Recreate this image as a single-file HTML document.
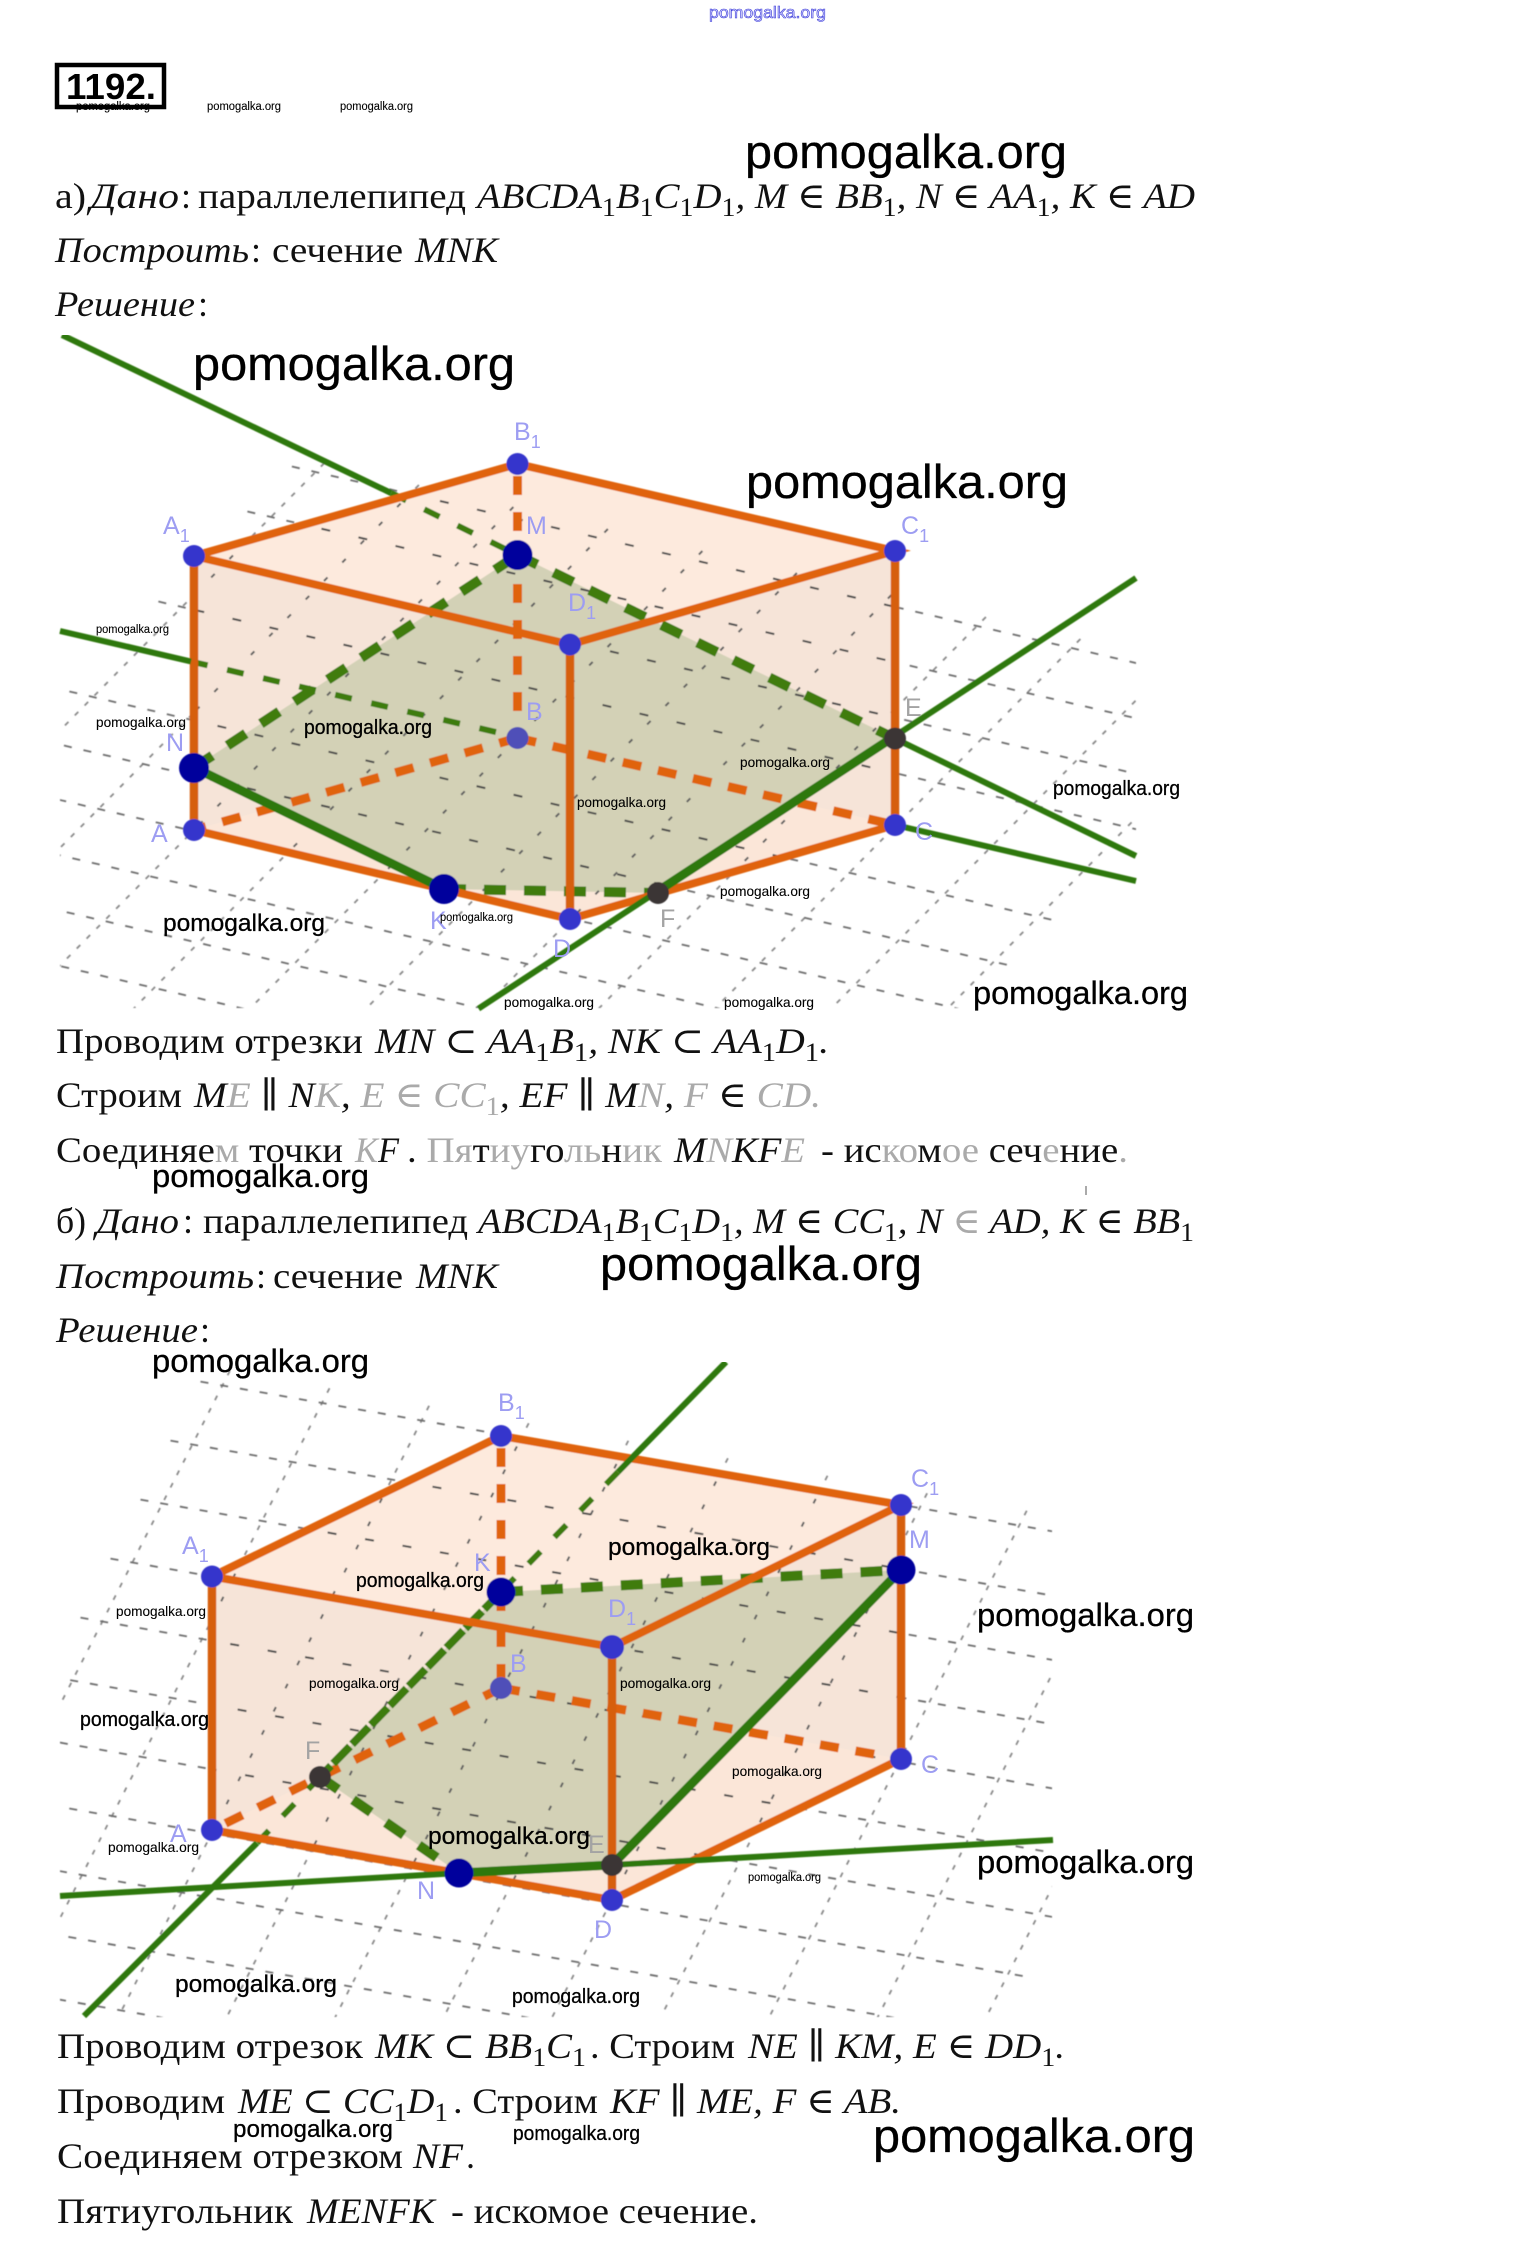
<!DOCTYPE html>
<html lang="ru"><head><meta charset="utf-8"><title>1192</title>
<style>
html,body{margin:0;padding:0;background:#fff}
svg{display:block}
.s{font-family:"Liberation Serif","DejaVu Serif",serif;font-size:36px;fill:#111}
.i{font-style:italic}
.w{font-family:"Liberation Sans",sans-serif;fill:#000;stroke:#000;stroke-width:.3}
.b1{font-size:47px}.b2{font-size:32px}.b3{font-size:24px}.b4{font-size:20px}.b5{font-size:14px;stroke-width:.1}.b6{font-size:11.5px;stroke-width:.1}
.l{font-family:"Liberation Sans",sans-serif;font-size:25px;fill:#9d9df2}
.l2{font-family:"Liberation Sans",sans-serif;font-size:25px;fill:#a3a3a3}
.sub{font-size:18px}
.gr{fill:#aaa}
.g1{stroke:#6e6e6e;stroke-width:1.8;stroke-dasharray:8 12;fill:none}
.g2{stroke:#8a8a8a;stroke-width:1.8;stroke-dasharray:5 9;fill:none}
.g1i{stroke:#4a4a4a;stroke-width:2;stroke-dasharray:9 29;fill:none}
.g2i{stroke:#606060;stroke-width:2;stroke-dasharray:5 21;fill:none}
.o{stroke:#e0640f;stroke-width:8;fill:none}
.ov{stroke:#d65f0e;stroke-width:8.5;fill:none}
.od{stroke:#e0640f;stroke-width:9;stroke-dasharray:19 17;fill:none}
.gs{stroke:#2f780b;stroke-width:6;fill:none}
.gt{stroke:#2f780b;stroke-width:9;fill:none}
.gd{stroke:#3f7c0c;stroke-width:10;stroke-dasharray:22 18;fill:none}
.gn{stroke:#3e7c0c;stroke-width:6;stroke-dasharray:17 20;fill:none}
.pt{fill:#3636cc}.pb{fill:#00009c}.pk{fill:#3a3636}
</style></head><body>
<svg xmlns="http://www.w3.org/2000/svg" width="1532" height="2262" viewBox="0 0 1532 2262">
<defs>
<filter id="bl" x="0" y="0" width="100%" height="100%"><feGaussianBlur stdDeviation="0.45"/></filter>
<clipPath id="c1"><rect x="60" y="335" width="1076" height="673"/></clipPath>
<clipPath id="c2"><rect x="60" y="1362" width="992" height="655"/></clipPath>
<clipPath id="in1"><polygon points="194,556 517.5,464 895,551 895,825 570,919 194,830"/></clipPath>
<clipPath id="out1"><path clip-rule="evenodd" d="M0 300H1532V1040H0ZM194 556L517.5 464L895 551V825L570 919L194 830Z"/></clipPath>
<clipPath id="in2"><polygon points="212,1576.5 501,1436 901,1505 901,1759 612,1900 212,1830"/></clipPath>
<clipPath id="out2"><path clip-rule="evenodd" d="M0 1340H1532V2040H0ZM212 1576.5L501 1436L901 1505V1759L612 1900L212 1830Z"/></clipPath>
<g id="s1">
<line x1="324.4" y1="463" x2="-174" y2="967"/><line x1="418.9" y1="485" x2="-79.5" y2="989"/><line x1="513.4" y1="507" x2="15" y2="1011"/><line x1="607.9" y1="529" x2="109.5" y2="1033"/><line x1="702.4" y1="551" x2="204" y2="1055"/><line x1="796.9" y1="573" x2="298.5" y2="1077"/><line x1="891.4" y1="595" x2="393" y2="1099"/><line x1="985.9" y1="617" x2="487.5" y2="1121"/><line x1="1080.4" y1="639" x2="582" y2="1143"/><line x1="1174.9" y1="661" x2="676.5" y2="1165"/><line x1="1269.4" y1="683" x2="771" y2="1187"/>
</g>
<g id="r1">
<line x1="-153" y1="916.5" x2="834" y2="1146"/><line x1="-108.6" y1="871.5" x2="879" y2="1101"/><line x1="-64" y1="826.5" x2="923" y2="1056"/><line x1="-19.6" y1="781.5" x2="968" y2="1011"/><line x1="25" y1="736.5" x2="1012" y2="966"/><line x1="69.4" y1="691.5" x2="1057" y2="921"/><line x1="158.4" y1="601.5" x2="1410" y2="893"/><line x1="202.9" y1="556.5" x2="1455" y2="848"/><line x1="247.4" y1="511.5" x2="1500" y2="803"/><line x1="291.9" y1="466.5" x2="1544" y2="758"/>
</g>
<g id="s2">
<line x1="229.9" y1="1370.75" x2="-137.6" y2="2093.5"/><line x1="329.5" y1="1388.25" x2="-38" y2="2111"/><line x1="429.1" y1="1405.75" x2="61.6" y2="2128.5"/><line x1="528.7" y1="1423.25" x2="161.2" y2="2146"/><line x1="628.3" y1="1440.75" x2="260.8" y2="2163.5"/><line x1="727.9" y1="1458.25" x2="360.4" y2="2181"/><line x1="827.5" y1="1475.75" x2="460" y2="2198.5"/><line x1="927.1" y1="1493.25" x2="559.6" y2="2216"/><line x1="1026.7" y1="1510.75" x2="659.2" y2="2233.5"/><line x1="1126.3" y1="1528.25" x2="758.8" y2="2251"/><line x1="1225.9" y1="1545.75" x2="858.4" y2="2268.5"/>
</g>
<g id="r2">
<line x1="200.5" y1="1381.65" x2="1318" y2="1578"/><line x1="170.5" y1="1440.65" x2="1288" y2="1637"/><line x1="140.5" y1="1499.65" x2="1258" y2="1696"/><line x1="110.5" y1="1558.65" x2="1228" y2="1755"/><line x1="80.5" y1="1617.65" x2="1198" y2="1814"/><line x1="50.5" y1="1676.65" x2="1168" y2="1873"/><line x1="20.5" y1="1735.65" x2="1138" y2="1932"/><line x1="-9.5" y1="1794.65" x2="1033.3" y2="1977.9"/><line x1="-39.5" y1="1853.65" x2="1003.3" y2="2036.9"/><line x1="-69.5" y1="1912.65" x2="973.3" y2="2095.9"/><line x1="-99.5" y1="1971.65" x2="943.3" y2="2154.9"/>
</g>
</defs>
<rect width="1532" height="2262" fill="#fff"/>

<!-- Diagram 1 -->
<g filter="url(#bl)">
<polygon points="194,556 517.5,464 895,551 895,825 570,919 194,830" fill="#f6e4d8"/>
<polygon points="194,556 517.5,464 895,551 570,644.5" fill="#fdeadd"/>
<polygon points="194,830 517.5,738 895,825 570,919" fill="#fbe6d8"/>
<polygon points="194,767.6 517.5,555 895,738.6 658,893 444,889" fill="#d3d1b6"/>
<g clip-path="url(#c1)">
<g clip-path="url(#out1)"><use href="#s1" class="g2"/><use href="#r1" class="g1"/></g>
<g clip-path="url(#in1)"><use href="#s1" class="g2i"/><use href="#r1" class="g1i"/></g>
</g>
<!-- hidden edges -->
<line class="od" x1="517.5" y1="476" x2="517.5" y2="738"/>
<line class="od" x1="517.5" y1="738" x2="194" y2="830"/>
<line class="od" x1="517.5" y1="738" x2="895" y2="825"/>
<!-- green hidden -->
<line class="gn" x1="391" y1="493" x2="517.5" y2="555"/>
<line class="gn" x1="191" y1="661.5" x2="517.5" y2="737"/>
<line class="gd" x1="194" y1="767.6" x2="517.5" y2="555"/>
<line class="gd" x1="517.5" y1="555" x2="895" y2="738.6"/>
<line class="gd" x1="444" y1="889" x2="658" y2="893"/>
<!-- solid edges -->
<polyline class="o" points="194,556 517.5,464 895,551 570,644.5 194,556"/>
<line class="ov" x1="194" y1="556" x2="194" y2="830"/>
<line class="ov" x1="895" y1="551" x2="895" y2="825"/>
<line class="ov" x1="570" y1="644.5" x2="570" y2="919"/>
<polyline class="o" points="194,830 570,919 895,825"/>
<!-- green solid -->
<line class="gs" x1="62" y1="335" x2="391" y2="493"/>
<line class="gs" x1="895" y1="738.6" x2="1136" y2="856"/>
<line class="gs" x1="60" y1="631" x2="191" y2="661.5"/>
<line class="gs" x1="895" y1="825" x2="1136" y2="881"/>
<line class="gs" x1="478.5" y1="1008.6" x2="658" y2="891"/>
<line class="gs" x1="895" y1="736" x2="1136" y2="578"/>
<line class="gt" x1="658" y1="891" x2="895" y2="736"/>
<line class="gt" x1="194" y1="767.6" x2="444" y2="889"/>
<!-- points -->
<circle class="pt" cx="194" cy="556" r="11"/><circle class="pt" cx="517.5" cy="464" r="11"/><circle class="pt" cx="895" cy="551" r="11"/><circle class="pt" cx="570" cy="644.5" r="11"/>
<circle class="pt" cx="194" cy="830" r="11"/><circle cx="517.5" cy="738" r="11" fill="#4f4fb8"/><circle class="pt" cx="895" cy="825" r="11"/><circle class="pt" cx="570" cy="919" r="11"/>
<circle class="pb" cx="517.5" cy="555" r="15"/><circle class="pb" cx="194" cy="768" r="15"/><circle class="pb" cx="444" cy="889" r="15"/>
<circle class="pk" cx="895" cy="738.6" r="11"/><circle class="pk" cx="658" cy="893" r="11"/>
</g>
<text class="l" x="514" y="440">B<tspan class="sub" dy="8">1</tspan></text>
<text class="l" x="163" y="534">A<tspan class="sub" dy="8">1</tspan></text>
<text class="l" x="901" y="534">C<tspan class="sub" dy="8">1</tspan></text>
<text class="l" x="526" y="534">M</text>
<text class="l" x="568" y="611">D<tspan class="sub" dy="8">1</tspan></text>
<text class="l2" x="905" y="716">E</text>
<text class="l" x="526" y="720">B</text>
<text class="l" x="166" y="751">N</text>
<text class="l" x="151" y="842">A</text>
<text class="l" x="915" y="840">C</text>
<text class="l" x="430" y="929">K</text>
<text class="l" x="553" y="957">D</text>
<text class="l2" x="660" y="927">F</text>

<!-- Diagram 2 -->
<g filter="url(#bl)">
<polygon points="212,1576.5 501,1436 901,1505 901,1759 612,1900 212,1830" fill="#f6e4d8"/>
<polygon points="212,1576.5 501,1436 901,1505 612,1647" fill="#fdeadd"/>
<polygon points="212,1830 501,1688 901,1759 612,1900" fill="#fbe6d8"/>
<polygon points="501,1592 901,1570 612,1865 459,1873 320,1777" fill="#d3d1b6"/>
<g clip-path="url(#c2)">
<g clip-path="url(#out2)"><use href="#s2" class="g2"/><use href="#r2" class="g1"/></g>
<g clip-path="url(#in2)"><use href="#s2" class="g2i"/><use href="#r2" class="g1i"/></g>
</g>
<line class="od" x1="501" y1="1448" x2="501" y2="1688"/>
<line class="od" x1="501" y1="1688" x2="212" y2="1830"/>
<line class="od" x1="501" y1="1688" x2="901" y2="1759"/>
<line class="gn" x1="618" y1="1472" x2="501" y2="1592"/>
<line class="gn" x1="320" y1="1777" x2="257" y2="1843"/>
<line x1="501" y1="1592" x2="320" y2="1777" stroke="#3e7c0c" stroke-width="8" stroke-dasharray="24 3" fill="none"/>
<line class="gd" x1="501" y1="1592" x2="901" y2="1570"/>
<line class="gd" x1="320" y1="1777" x2="459" y2="1873"/>
<polyline class="o" points="212,1576.5 501,1436 901,1505 612,1647 212,1576.5"/>
<line class="ov" x1="212" y1="1576.5" x2="212" y2="1830"/>
<line class="ov" x1="901" y1="1505" x2="901" y2="1759"/>
<line class="ov" x1="612" y1="1647" x2="612" y2="1900"/>
<polyline class="o" points="212,1830 612,1900 901,1759"/>
<line class="gs" x1="84" y1="2016" x2="257" y2="1843"/>
<line class="gs" x1="618" y1="1472" x2="726" y2="1362"/>
<line class="gs" x1="60" y1="1896" x2="459" y2="1873"/>
<line class="gs" x1="612" y1="1865" x2="1053" y2="1840"/>
<line class="gt" x1="459" y1="1873" x2="612" y2="1865"/>
<line class="gt" x1="612" y1="1865" x2="901" y2="1570"/>
<circle class="pt" cx="212" cy="1576.5" r="11"/><circle class="pt" cx="501" cy="1436" r="11"/><circle class="pt" cx="901" cy="1505" r="11"/><circle class="pt" cx="612" cy="1647" r="12"/>
<circle class="pt" cx="212" cy="1830" r="11"/><circle cx="501" cy="1688" r="11" fill="#4f4fb8"/><circle class="pt" cx="901" cy="1759" r="11"/><circle class="pt" cx="612" cy="1900" r="11"/>
<circle class="pb" cx="501" cy="1592" r="14.5"/><circle class="pb" cx="901" cy="1570" r="14.5"/><circle class="pb" cx="459" cy="1873" r="14.5"/>
<circle class="pk" cx="612" cy="1865" r="11"/><circle class="pk" cx="320" cy="1777" r="11"/>
</g>
<text class="l" x="498" y="1411">B<tspan class="sub" dy="8">1</tspan></text>
<text class="l" x="182" y="1554">A<tspan class="sub" dy="8">1</tspan></text>
<text class="l" x="911" y="1487">C<tspan class="sub" dy="8">1</tspan></text>
<text class="l" x="909" y="1548">M</text>
<text class="l" x="474" y="1571">K</text>
<text class="l" x="608" y="1617">D<tspan class="sub" dy="8">1</tspan></text>
<text class="l" x="510" y="1672">B</text>
<text class="l2" x="305" y="1759">F</text>
<text class="l" x="921" y="1773">C</text>
<text class="l" x="170" y="1842">A</text>
<text class="l2" x="588" y="1853">E</text>
<text class="l" x="417" y="1899">N</text>
<text class="l" x="594" y="1938">D</text>

<!-- Title -->
<rect x="57" y="65" width="107" height="42" fill="none" stroke="#000" stroke-width="4.5"/>
<text x="66" y="99" font-family="Liberation Sans,sans-serif" font-weight="bold" font-size="36" textLength="90" lengthAdjust="spacingAndGlyphs">1192.</text>
<text x="709" y="18" font-family="Liberation Sans,sans-serif" font-size="17" fill="#d8d8ff" stroke="#3a3ad8" stroke-width=".6" textLength="117" lengthAdjust="spacingAndGlyphs">pomogalka.org</text>

<!-- Text -->
<g class="s">
<text x="55" y="208" textLength="31" lengthAdjust="spacingAndGlyphs">а)</text>
<text class="i" x="90" y="208" textLength="89" lengthAdjust="spacingAndGlyphs">Дано</text><text x="181" y="208">:</text>
<text x="198" y="208" textLength="268" lengthAdjust="spacingAndGlyphs">параллелепипед</text>
<text class="i" x="477" y="208" textLength="718" lengthAdjust="spacingAndGlyphs">ABCDA<tspan dy="8" font-size="26" font-style="normal">1</tspan><tspan dy="-8">B</tspan><tspan dy="8" font-size="26" font-style="normal">1</tspan><tspan dy="-8">C</tspan><tspan dy="8" font-size="26" font-style="normal">1</tspan><tspan dy="-8">D</tspan><tspan dy="8" font-size="26" font-style="normal">1</tspan><tspan dy="-8">, M ∈ BB</tspan><tspan dy="8" font-size="26" font-style="normal">1</tspan><tspan dy="-8">, N ∈ AA</tspan><tspan dy="8" font-size="26" font-style="normal">1</tspan><tspan dy="-8">, K ∈ AD</tspan></text>

<text class="i" x="55" y="262" textLength="194" lengthAdjust="spacingAndGlyphs">Построить</text><text x="251" y="262">:</text>
<text x="272" y="262" textLength="131" lengthAdjust="spacingAndGlyphs">сечение</text>
<text class="i" x="415" y="262" textLength="83" lengthAdjust="spacingAndGlyphs">MNK</text>
<text class="i" x="55" y="316" textLength="140" lengthAdjust="spacingAndGlyphs">Решение</text><text x="198" y="316">:</text>

<text x="56" y="1053" textLength="307" lengthAdjust="spacingAndGlyphs">Проводим отрезки</text>
<text class="i" x="375" y="1053" textLength="454" lengthAdjust="spacingAndGlyphs">MN ⊂ AA<tspan dy="8" font-size="26" font-style="normal">1</tspan><tspan dy="-8">B</tspan><tspan dy="8" font-size="26" font-style="normal">1</tspan><tspan dy="-8">, NK ⊂ AA</tspan><tspan dy="8" font-size="26" font-style="normal">1</tspan><tspan dy="-8">D</tspan><tspan dy="8" font-size="26" font-style="normal">1</tspan><tspan dy="-8">.</tspan></text>

<text x="56" y="1107" textLength="126" lengthAdjust="spacingAndGlyphs">Строим</text>
<text class="i" x="194" y="1107" textLength="627" lengthAdjust="spacingAndGlyphs">M<tspan class="gr">E</tspan> ∥ N<tspan class="gr">K</tspan>, <tspan class="gr">E ∈ CC</tspan><tspan dy="8" font-size="26" class="gr" font-style="normal">1</tspan><tspan dy="-8">,  EF ∥ M</tspan><tspan class="gr">N</tspan>, <tspan class="gr">F</tspan> ∈ <tspan class="gr">CD.</tspan></text>

<text x="56" y="1162" textLength="287" lengthAdjust="spacingAndGlyphs">Соединяе<tspan class="gr">м</tspan> точки</text>
<text class="i gr" x="355" y="1162" textLength="44" lengthAdjust="spacingAndGlyphs">K<tspan fill="#111">F</tspan></text>
<text x="407" y="1162" textLength="255" lengthAdjust="spacingAndGlyphs">. <tspan class="gr">Пя</tspan>т<tspan class="gr">иу</tspan>го<tspan class="gr">ль</tspan>н<tspan class="gr">ик</tspan></text>
<text class="i" x="674" y="1162" textLength="131" lengthAdjust="spacingAndGlyphs">M<tspan class="gr">N</tspan>KF<tspan class="gr">E</tspan></text>
<text x="821" y="1162" textLength="307" lengthAdjust="spacingAndGlyphs">- ис<tspan class="gr">ко</tspan>м<tspan class="gr">ое</tspan> сеч<tspan class="gr">е</tspan>ние<tspan class="gr">.</tspan></text>
<line x1="1086" y1="1186" x2="1086" y2="1195" stroke="#555" stroke-width="1"/>

<text x="56" y="1233" textLength="30" lengthAdjust="spacingAndGlyphs">б)</text>
<text class="i" x="96" y="1233" textLength="83" lengthAdjust="spacingAndGlyphs">Дано</text><text x="183" y="1233">:</text>
<text x="203" y="1233" textLength="265" lengthAdjust="spacingAndGlyphs">параллелепипед</text>
<text class="i" x="478" y="1233" textLength="716" lengthAdjust="spacingAndGlyphs">ABCDA<tspan dy="8" font-size="26" font-style="normal">1</tspan><tspan dy="-8">B</tspan><tspan dy="8" font-size="26" font-style="normal">1</tspan><tspan dy="-8">C</tspan><tspan dy="8" font-size="26" font-style="normal">1</tspan><tspan dy="-8">D</tspan><tspan dy="8" font-size="26" font-style="normal">1</tspan><tspan dy="-8">, M ∈ CC</tspan><tspan dy="8" font-size="26" font-style="normal">1</tspan><tspan dy="-8">, N </tspan><tspan class="gr">∈</tspan> AD, K ∈ BB<tspan dy="8" font-size="26" font-style="normal">1</tspan></text>

<text class="i" x="56" y="1288" textLength="198" lengthAdjust="spacingAndGlyphs">Построить</text><text x="256" y="1288">:</text>
<text x="273" y="1288" textLength="130" lengthAdjust="spacingAndGlyphs">сечение</text>
<text class="i" x="416" y="1288" textLength="82" lengthAdjust="spacingAndGlyphs">MNK</text>
<text class="i" x="56" y="1342" textLength="142" lengthAdjust="spacingAndGlyphs">Решение</text><text x="200" y="1342">:</text>

<text x="57" y="2058" textLength="306" lengthAdjust="spacingAndGlyphs">Проводим отрезок</text>
<text class="i" x="375" y="2058" textLength="211" lengthAdjust="spacingAndGlyphs">MK ⊂ BB<tspan dy="8" font-size="26" font-style="normal">1</tspan><tspan dy="-8">C</tspan><tspan dy="8" font-size="26" font-style="normal">1</tspan></text>
<text x="590" y="2058" textLength="145" lengthAdjust="spacingAndGlyphs">. Строим</text>
<text class="i" x="748" y="2058" textLength="317" lengthAdjust="spacingAndGlyphs">NE ∥ KM, E ∈ DD<tspan dy="8" font-size="26" font-style="normal">1</tspan><tspan dy="-8">.</tspan></text>

<text x="57" y="2113" textLength="168" lengthAdjust="spacingAndGlyphs">Проводим</text>
<text class="i" x="238" y="2113" textLength="210" lengthAdjust="spacingAndGlyphs">ME ⊂ CC<tspan dy="8" font-size="26" font-style="normal">1</tspan><tspan dy="-8">D</tspan><tspan dy="8" font-size="26" font-style="normal">1</tspan></text>
<text x="453" y="2113" textLength="145" lengthAdjust="spacingAndGlyphs">. Строим</text>
<text class="i" x="610" y="2113" textLength="291" lengthAdjust="spacingAndGlyphs">KF ∥ ME, F ∈ AB.</text>

<text x="57" y="2168" textLength="346" lengthAdjust="spacingAndGlyphs">Соединяем отрезком</text>
<text class="i" x="413" y="2168" textLength="50" lengthAdjust="spacingAndGlyphs">NF</text><text x="466" y="2168">.</text>

<text x="57" y="2223" textLength="236" lengthAdjust="spacingAndGlyphs">Пятиугольник</text>
<text class="i" x="307" y="2223" textLength="128" lengthAdjust="spacingAndGlyphs">MENFK</text>
<text x="451" y="2223" textLength="307" lengthAdjust="spacingAndGlyphs">- искомое сечение.</text>
</g>

<!-- Watermarks -->
<g class="w">
<text class="b1" x="745" y="168" textLength="322" lengthAdjust="spacingAndGlyphs">pomogalka.org</text>
<text class="b1" x="193" y="380" textLength="322" lengthAdjust="spacingAndGlyphs">pomogalka.org</text>
<text class="b1" x="746" y="498" textLength="322" lengthAdjust="spacingAndGlyphs">pomogalka.org</text>
<text class="b1" x="600" y="1280" textLength="322" lengthAdjust="spacingAndGlyphs">pomogalka.org</text>
<text class="b1" x="873" y="2152" textLength="322" lengthAdjust="spacingAndGlyphs">pomogalka.org</text>
<text class="b2" x="152" y="1187" textLength="217" lengthAdjust="spacingAndGlyphs">pomogalka.org</text>
<text class="b2" x="152" y="1372" textLength="217" lengthAdjust="spacingAndGlyphs">pomogalka.org</text>
<text class="b2" x="977" y="1626" textLength="217" lengthAdjust="spacingAndGlyphs">pomogalka.org</text>
<text class="b2" x="977" y="1873" textLength="217" lengthAdjust="spacingAndGlyphs">pomogalka.org</text>
<text class="b2" x="973" y="1004" textLength="215" lengthAdjust="spacingAndGlyphs">pomogalka.org</text>
<text class="b3" x="163" y="931" textLength="162" lengthAdjust="spacingAndGlyphs">pomogalka.org</text>
<text class="b3" x="608" y="1555" textLength="162" lengthAdjust="spacingAndGlyphs">pomogalka.org</text>
<text class="b3" x="428" y="1844" textLength="162" lengthAdjust="spacingAndGlyphs">pomogalka.org</text>
<text class="b3" x="175" y="1992" textLength="162" lengthAdjust="spacingAndGlyphs">pomogalka.org</text>
<text class="b3" x="233" y="2137" textLength="160" lengthAdjust="spacingAndGlyphs">pomogalka.org</text>
<text class="b4" x="304" y="734" textLength="128" lengthAdjust="spacingAndGlyphs">pomogalka.org</text>
<text class="b4" x="1053" y="795" textLength="127" lengthAdjust="spacingAndGlyphs">pomogalka.org</text>
<text class="b4" x="356" y="1587" textLength="128" lengthAdjust="spacingAndGlyphs">pomogalka.org</text>
<text class="b4" x="80" y="1726" textLength="129" lengthAdjust="spacingAndGlyphs">pomogalka.org</text>
<text class="b4" x="512" y="2003" textLength="128" lengthAdjust="spacingAndGlyphs">pomogalka.org</text>
<text class="b4" x="513" y="2140" textLength="127" lengthAdjust="spacingAndGlyphs">pomogalka.org</text>
<text class="b5" x="96" y="727" textLength="90" lengthAdjust="spacingAndGlyphs">pomogalka.org</text>
<text class="b5" x="740" y="767" textLength="90" lengthAdjust="spacingAndGlyphs">pomogalka.org</text>
<text class="b5" x="577" y="807" textLength="89" lengthAdjust="spacingAndGlyphs">pomogalka.org</text>
<text class="b5" x="720" y="896" textLength="90" lengthAdjust="spacingAndGlyphs">pomogalka.org</text>
<text class="b5" x="504" y="1007" textLength="90" lengthAdjust="spacingAndGlyphs">pomogalka.org</text>
<text class="b5" x="724" y="1007" textLength="90" lengthAdjust="spacingAndGlyphs">pomogalka.org</text>
<text class="b5" x="116" y="1616" textLength="90" lengthAdjust="spacingAndGlyphs">pomogalka.org</text>
<text class="b5" x="309" y="1688" textLength="90" lengthAdjust="spacingAndGlyphs">pomogalka.org</text>
<text class="b5" x="620" y="1688" textLength="91" lengthAdjust="spacingAndGlyphs">pomogalka.org</text>
<text class="b5" x="732" y="1776" textLength="90" lengthAdjust="spacingAndGlyphs">pomogalka.org</text>
<text class="b5" x="108" y="1852" textLength="91" lengthAdjust="spacingAndGlyphs">pomogalka.org</text>
<text class="b6" x="96" y="633" textLength="73" lengthAdjust="spacingAndGlyphs">pomogalka.org</text>
<text class="b6" x="440" y="921" textLength="73" lengthAdjust="spacingAndGlyphs">pomogalka.org</text>
<text class="b6" x="748" y="1881" textLength="73" lengthAdjust="spacingAndGlyphs">pomogalka.org</text>
<text class="b6" x="76" y="110" textLength="74" lengthAdjust="spacingAndGlyphs">pomogalka.org</text>
<text class="b6" x="207" y="110" textLength="74" lengthAdjust="spacingAndGlyphs">pomogalka.org</text>
<text class="b6" x="340" y="110" textLength="73" lengthAdjust="spacingAndGlyphs">pomogalka.org</text>
</g>
</svg>
</body></html>
